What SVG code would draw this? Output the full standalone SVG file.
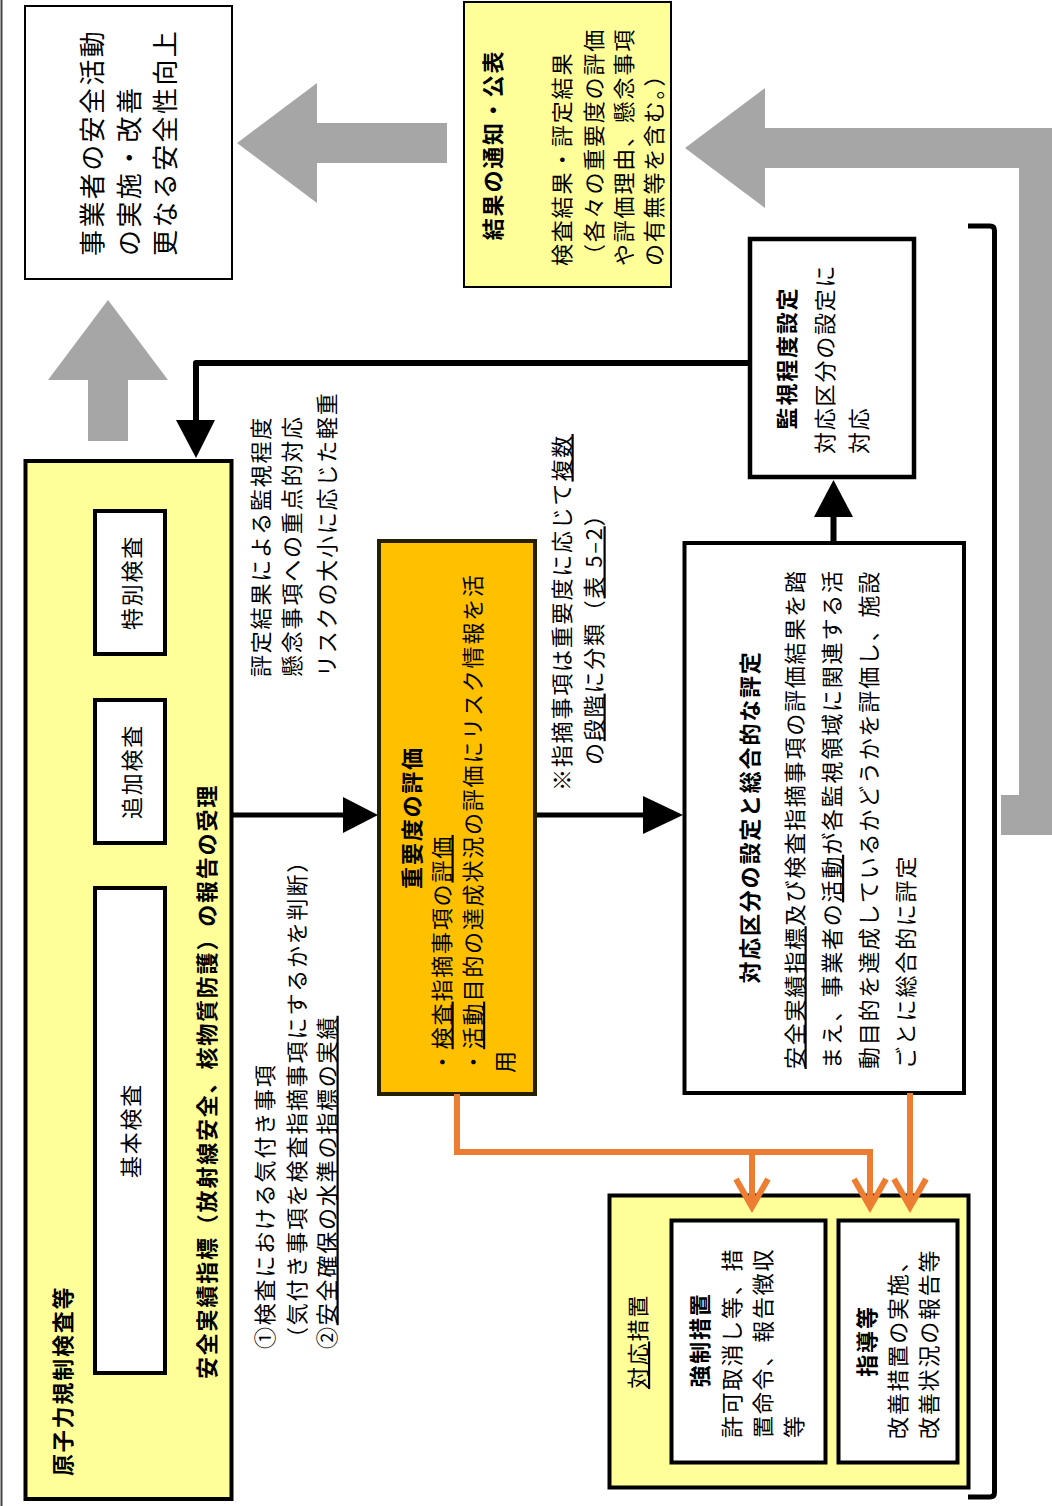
<svg xmlns="http://www.w3.org/2000/svg" width="1052" height="1506" viewBox="0 0 1052 1506">
<style>
text{font-family:"Noto Sans CJK JP","Noto Sans",sans-serif;fill:#000}
.t{font-size:22px;letter-spacing:1.8px}
.b{font-size:22px;font-weight:700;letter-spacing:1.8px}
.L{font-size:26px;letter-spacing:2.4px}
.m{text-anchor:middle}
.u{text-decoration:underline;text-decoration-thickness:1.6px;text-underline-offset:2px}
.box{fill:#fff;stroke:#000;stroke-width:4}
.yel{fill:#ffff99;stroke:#000;stroke-width:4}
.gray{fill:#a6a6a6}
.con{fill:none;stroke:#000;stroke-width:6;stroke-linejoin:round}
.org{fill:none;stroke:#ed7d31;stroke-width:6;marker-end:url(#oa)}
</style>
<defs>
<marker id="oa" markerUnits="userSpaceOnUse" markerWidth="60" markerHeight="60" refX="0" refY="0" orient="auto" overflow="visible">
<path d="M-28,-16 L0,0 L-28,16" fill="none" stroke="#ed7d31" stroke-width="6"/>
</marker>
</defs>
<rect x="0" y="0" width="1052" height="1506" fill="#fff"/>
<line x1="1.5" y1="0" x2="1.5" y2="1506" stroke="#444" stroke-width="2"/>
<g transform="matrix(0,-1,1,0,0,1506)">
<g id="n-operator">
<rect x="1227" y="25" width="273" height="207" class="box" style="stroke-width:2"/>
<text class="L" x="1250" y="101.5">事業者の安全活動</text>
<text class="L" x="1250" y="138.5">の実施・改善</text>
<text class="L" x="1250" y="175">更なる安全性向上</text>
</g>
<g id="n-result">
<rect x="1219" y="464" width="285" height="207" class="yel" style="stroke-width:2"/>
<text class="b m" x="1361" y="500.5">結果の通知・公表</text>
<text class="t" x="1240" y="569.5">検査結果・評定結果</text>
<text class="t" x="1240" y="601.5">（各々の重要度の評価</text>
<text class="t" x="1240" y="632">や評価理由、懸念事項</text>
<text class="t" x="1240" y="662">の有無等を含む。）</text>
</g>
<g id="n-monitor">
<rect x="1029" y="750" width="238" height="164" class="box" style="stroke-width:4.5"/>
<text class="b m" x="1148" y="794.5">監視程度設定</text>
<text class="t" x="1052" y="832.5">対応区分の設定に</text>
<text class="t" x="1052" y="867">対応</text>
</g>
<g id="n-inspection">
<rect x="7" y="25.5" width="1038" height="206" class="yel"/>
<text class="b" x="30" y="70.5">原子力規制検査等</text>
<text class="b" x="127" y="214.5">安全実績指標（放射線安全、核物質防護）の報告の受理</text>
</g>
<g id="n-special">
<rect x="852" y="95" width="143" height="70" class="box"/>
<text class="t m" x="923.5" y="139.5">特別検査</text>
</g>
<g id="n-additional">
<rect x="663" y="95" width="143" height="70" class="box"/>
<text class="t m" x="734.5" y="139.5">追加検査</text>
</g>
<g id="n-basic">
<rect x="133" y="95" width="485" height="70" class="box"/>
<text class="t m" x="375.5" y="138.5">基本検査</text>
</g>
<g id="n-significance">
<rect x="412" y="379" width="553" height="156" fill="#ffc000" stroke="#262000" stroke-width="4"/>
<text class="b m" x="688.5" y="419.5">重要度の評価</text>
<text class="t" x="433" y="449.5">・<tspan class="u">検査</tspan>指摘事項の<tspan class="u">評価</tspan></text>
<text class="t" x="433" y="481">・<tspan class="u">活動</tspan>目的の達成状況の評価にリスク情報を活</text>
<text class="t" x="433" y="512.5">用</text>
</g>
<g id="n-assessment">
<rect x="413" y="684.5" width="550" height="279.5" class="box"/>
<text class="b m" x="689" y="757.5">対応区分の設定と総合的な評定</text>
<text class="t" x="437" y="802.5"><tspan class="u">安全実績指標</tspan>及び検査指摘事項の評価結果を踏</text>
<text class="t" x="437" y="840">まえ、事業者の<tspan class="u">活動</tspan>が各監視領域に関連する活</text>
<text class="t" x="437" y="877">動目的を達成しているかどうかを評価し、施設</text>
<text class="t" x="437" y="913.5">ごとに総合的に評定</text>
</g>
<g id="n-response">
<rect x="18.5" y="609.5" width="292" height="359" class="yel"/>
<text class="t m" x="164.5" y="646"><tspan class="u">対応</tspan>措置</text>
</g>
<g id="n-enforce">
<rect x="43.5" y="671.5" width="242" height="154" class="box"/>
<text class="b m" x="166" y="707.5">強制措置</text>
<text class="t" x="68" y="739.5">許可取消し等、措</text>
<text class="t" x="68" y="771">置命令、報告徴収</text>
<text class="t" x="68" y="801.5">等</text>
</g>
<g id="n-guidance">
<rect x="43.5" y="838.5" width="242" height="119" class="box"/>
<text class="b m" x="165" y="874.5">指導等</text>
<text class="t" x="67" y="906">改善措置の実施、</text>
<text class="t" x="67" y="936.5">改善状況の報告等</text>
</g>
<g id="labels">
<text class="t" x="829" y="268.5">評定結果による監視程度</text>
<text class="t" x="829" y="300">懸念事項への重点的対応</text>
<text class="t" x="829" y="334.5">リスクの大小に応じた軽重</text>
<text class="t" x="157" y="272.5">①検査における気付き事項</text>
<text class="t" x="157" y="304.5">（気付き事項を検査指摘事項にするかを判断）</text>
<text class="t" x="157" y="334.5">②<tspan class="u">安全確保の水準の指標の実績</tspan></text>
<text class="t" x="715" y="569.5">※指摘事項は重要度に応じて<tspan class="u">複数</tspan></text>
<text class="t" x="741" y="601.5">の<tspan class="u">段階</tspan>に分類（<tspan class="u">表 5–2</tspan>）</text>
</g>
<g id="connectors">
<polygon class="gray" points="1363,237 1423,317 1383,317 1383,447 1343,447 1343,317 1303,317"/>
<polygon class="gray" points="1206,108 1126,168 1126,128 1065,128 1065,88 1126,88 1126,48"/>
<polygon class="gray" points="1358,685 1418,765 1378,765 1378,1052 671,1052 671,1001 711,1001 711,1019 1338,1019 1338,765 1298,765"/>
<path class="con" d="M1143,750 L1143,196 L1084,196"/>
<polygon points="1048,196 1086,176 1086,215"/>
<path class="con" style="stroke-width:5" d="M691,232 L691,346"/>
<polygon points="691,378 673,343 709,343"/>
<path class="con" style="stroke-width:5" d="M691,537 L691,645"/>
<polygon points="691,683 672,643 710,643"/>
<path class="con" d="M963,833.5 L990,833.5"/>
<polygon points="1026,833.5 989,814 989,853"/>
<path d="M1280,968 L1280,990 Q1280,994.5 1275.5,994.5 L13.5,994.5 Q9,994.5 9,990 L9,968" fill="none" stroke="#000" stroke-width="5"/>
<path class="org" d="M412,457 L354,457 L354,870 L299,870"/>
<path class="org" d="M354,752 L299,752"/>
<path class="org" d="M413,910 L299,910"/>
</g>
</g>
</svg>
